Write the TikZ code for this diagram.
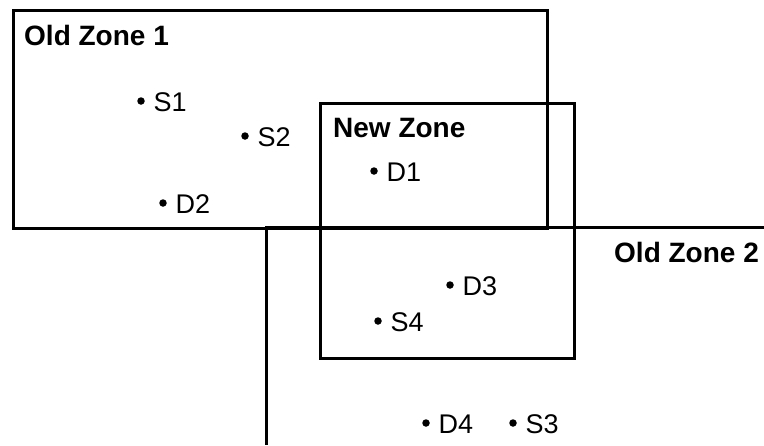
\documentclass[tikz,border=0pt]{standalone}
\usepackage{fontspec}
\setmainfont{Liberation Sans}
\usetikzlibrary{positioning}

\begin{document}
\begin{tikzpicture}[x=1pt,y=-1pt,
		zone/.style={line width=3pt},
		pt/.style={circle,fill=black,inner sep=0pt,minimum size=7.5pt},
		lbl/.style={inner sep=0pt,yshift=-1pt,font=\fontsize{27}{32}\selectfont},
		ttl/.style={inner sep=0pt,anchor=base west,font=\fontsize{28}{33}\selectfont\bfseries}]
				\useasboundingbox (0,0) rectangle (764,445);
				
				\draw[zone] (13,10) rectangle (547,228);
				\draw[zone] (320,103) rectangle (574,358);
				\draw[zone] (764,227) -- (266,227) -- (266,445);
				
				\node[ttl] (old1) at (24,45) {Old Zone 1};
				\node[ttl] (new) at (333,137) {New Zone};
				\node[ttl] (old2) at (614,262) {Old Zone 2};
				
				\node[pt] (s1) at (141,101) {};
				\node[lbl, right=8.5pt of s1] (s1l) {S1};
				\node[pt] (s2) at (245,136) {};
				\node[lbl, right=8.5pt of s2] (s2l) {S2};
				\node[pt] (d2) at (163,203) {};
				\node[lbl, right=8.5pt of d2] (d2l) {D2};
				
				\node[pt] (d1) at (374,171) {};
				\node[lbl, right=8.5pt of d1] (d1l) {D1};
				\node[pt] (d3) at (450,285) {};
				\node[lbl, right=8.5pt of d3] (d3l) {D3};
				\node[pt] (s4) at (378,321) {};
				\node[lbl, right=8.5pt of s4] (s4l) {S4};
				
				\node[pt] (d4) at (426,423) {};
				\node[lbl, right=8.5pt of d4] (d4l) {D4};
				\node[pt] (s3) at (513,423) {};
				\node[lbl, right=8.5pt of s3] (s3l) {S3};
\end{tikzpicture}
\end{document}
